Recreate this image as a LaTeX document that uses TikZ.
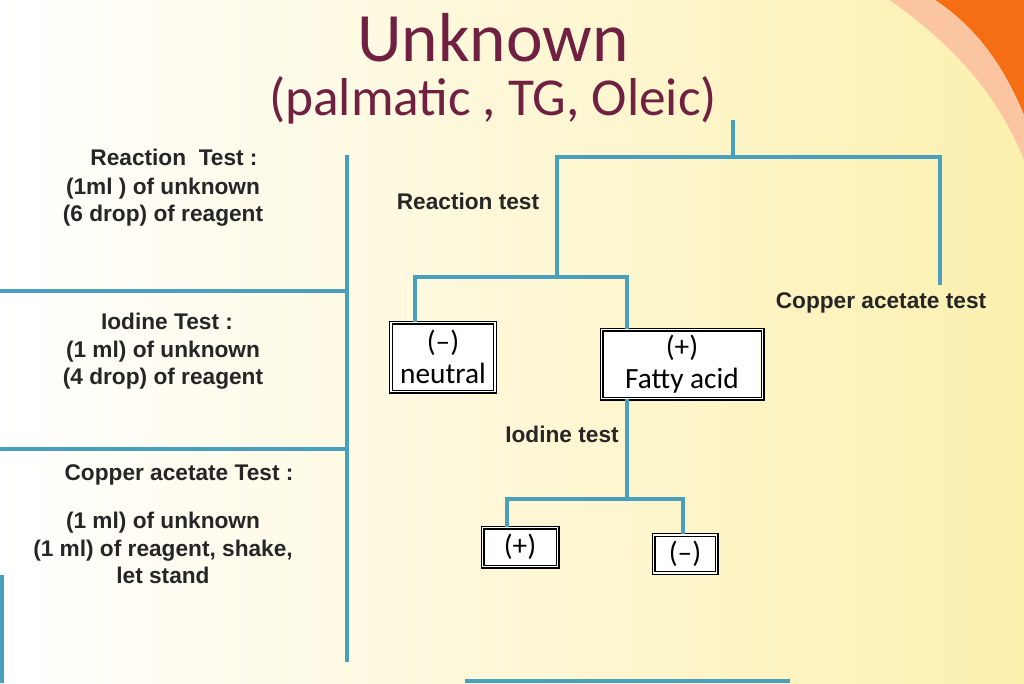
\documentclass[tikz,border=0pt]{standalone}
\usepackage{fontspec}
\setmainfont{Liberation Sans}
\newfontfamily\titlefont{Carlito}
\definecolor{treeline}{RGB}{72,160,190}
\definecolor{titlered}{RGB}{112,32,64}
\definecolor{bgyellow}{RGB}{252,240,175}
\definecolor{cornerorange}{RGB}{245,110,20}
\tikzset{
  branch/.style={treeline, line width=2.4pt},
  sidetext/.style={font=\bfseries\fontsize{17}{20.5}\selectfont, text=black!85, align=center},
  resultbox/.style={draw=black, double=white, double distance=1.2pt, line width=0.9pt,
    fill=white, font=\titlefont\fontsize{22}{24}\selectfont, align=center, inner sep=0pt},
}
\begin{document}
\begin{tikzpicture}[x=0.75pt,y=-0.75pt]
  \useasboundingbox (0,0) rectangle (1024,683);
  % background
  \shade[left color=white, right color=bgyellow] (0,0) rectangle (1024,683);
  \fill[cornerorange] (935,0) .. controls (980,30) and (1005,70) .. (1024,115) -- (1024,0) -- cycle;
  \fill[cornerorange!40] (890,0) .. controls (960,50) and (1000,100) .. (1024,160) -- (1024,115)
    .. controls (1005,70) and (980,30) .. (935,0) -- cycle;
  % title
  \node[font=\titlefont\fontsize{52}{56}\selectfont, text=titlered] (title) at (493,38) {Unknown};
  \node[font=\titlefont\fontsize{40}{44}\selectfont, text=titlered] (subtitle) at (493,100) {(palmatic , TG, Oleic)};
  % left panel
  \draw[branch] (347,155) -- (347,662);
  \draw[branch] (0,291) -- (347,291);
  \draw[branch] (0,449) -- (347,449);
  \draw[branch] (2,575) -- (2,683);
  \draw[branch] (465,681) -- (790,681);
  \node[sidetext] (rtitle) at (174,157) {Reaction\ \ Test :};
  \node[sidetext] (rtext) at (163,202) {(1ml ) of unknown\\(6 drop) of reagent};
  \node[sidetext] (ititle) at (167,321) {Iodine Test :};
  \node[sidetext] (itext) at (163,365) {(1 ml) of unknown\\(4 drop) of reagent};
  \node[sidetext] (ctitle) at (179,475) {Copper acetate Test :};
  \node[sidetext] (ctext) at (163,548) {(1 ml) of unknown\\(1 ml) of reagent, shake,\\let stand};
  % result boxes
  \node[resultbox, minimum width=104pt*0.75, minimum height=69pt*0.75] (neutral) at (443,357) {(\textendash)\\neutral};
  \node[resultbox, minimum width=161pt*0.75, minimum height=69pt*0.75] (fatty) at (682,364) {(+)\\Fatty acid};
  \node[resultbox, minimum width=75pt*0.75, minimum height=39pt*0.75] (pos) at (520,547) {(+)};
  \node[resultbox, minimum width=63pt*0.75, minimum height=38pt*0.75] (neg) at (685,554) {(\textendash)};
  % tree
  \coordinate (top) at (733,120);
  \draw[branch] (top) -- (733,157);
  \draw[branch] (557,277) -- (557,157) -- (940,157) -- (940,285);
  \draw[branch] (neutral.north -| 415,0) -- (415,277) -- (627,277) -- (fatty.north -| 627,0);
  \draw[branch] (fatty.south -| 627,0) -- (627,499);
  \draw[branch] (pos.north -| 507,0) -- (507,499) -- (683,499) -- (neg.north -| 683,0);
  % branch labels
  \node[sidetext] (lreact) at (468,201) {Reaction test};
  \node[sidetext] (lcopper) at (881,303) {Copper acetate test};
  \node[sidetext] (liodine) at (562,434) {Iodine test};
\end{tikzpicture}
\end{document}
